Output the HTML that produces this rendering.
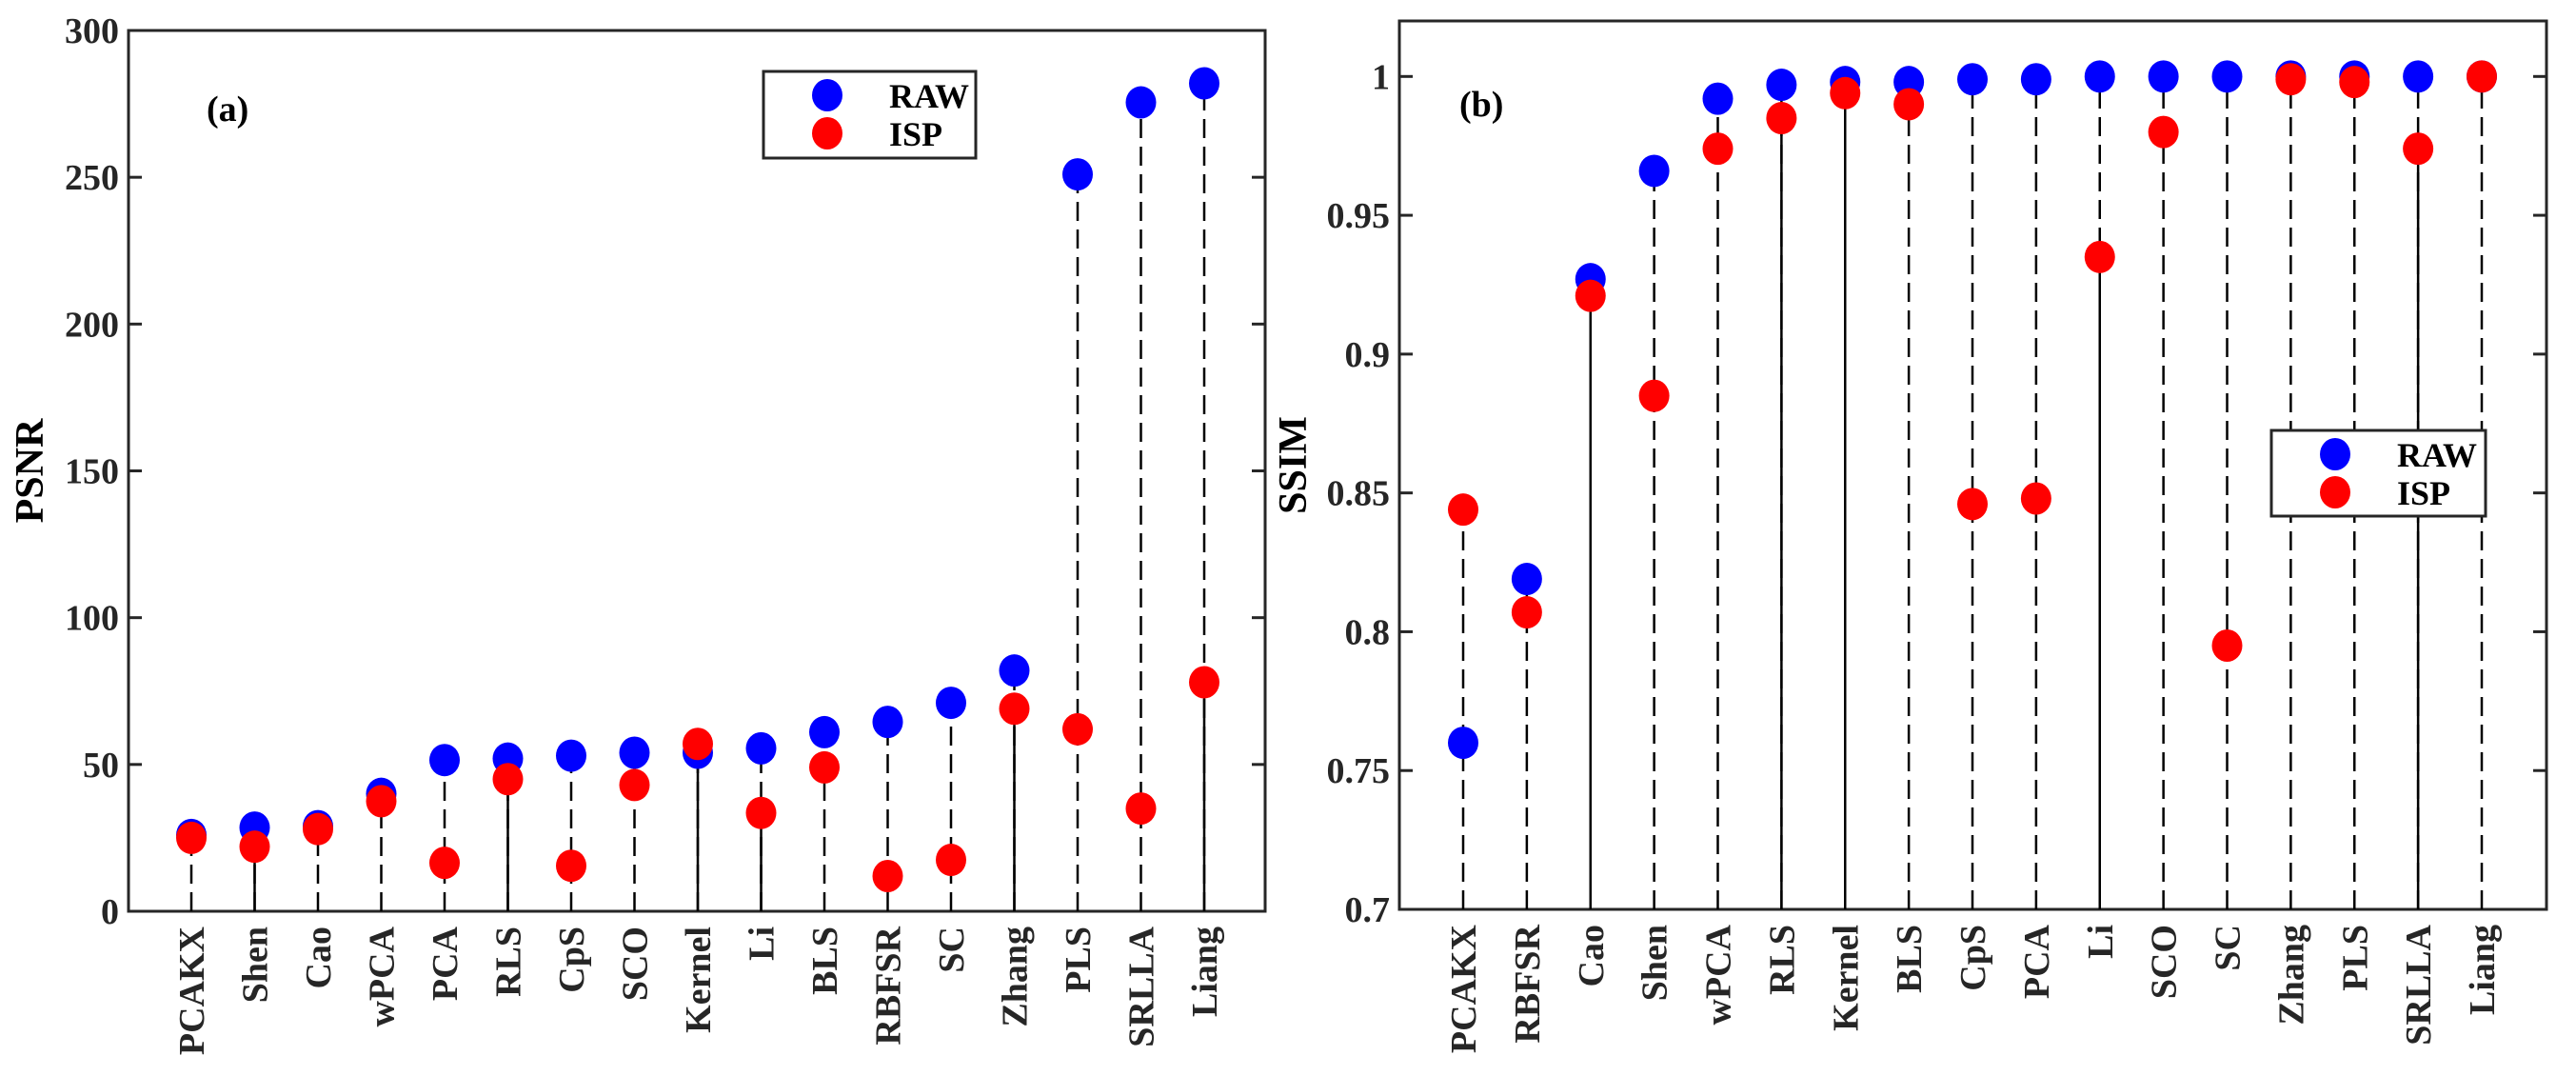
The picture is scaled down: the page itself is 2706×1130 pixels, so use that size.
<!DOCTYPE html>
<html><head><meta charset="utf-8">
<style>
html,body{margin:0;padding:0;background:#fff;}
svg{display:block;font-family:"Liberation Serif",serif;font-weight:bold;}
</style></head>
<body>
<svg id="fig" width="2706" height="1130" viewBox="0 0 2706 1130" xmlns="http://www.w3.org/2000/svg"></svg>
<script>
// ---- Data: panel (a) PSNR ----
const catsA = ["PCAKX","Shen","Cao","wPCA","PCA","RLS","CpS","SCO","Kernel","Li","BLS","RBFSR","SC","Zhang","PLS","SRLLA","Liang"];
const rawA = [26,28.5,29,40,51.5,52,53,54,54,55.5,61,64.5,71,82,251,275.5,282];
const ispA = [25,22,28,37.5,16.5,45,15.5,43,57,33.5,49,12,17.5,69,62,35,78];
const ticksA = [0,50,100,150,200,250,300];
const tickLabelsA = ["0","50","100","150","200","250","300"];
// ---- Data: panel (b) SSIM ----
const catsB = ["PCAKX","RBFSR","Cao","Shen","wPCA","RLS","Kernel","BLS","CpS","PCA","Li","SCO","SC","Zhang","PLS","SRLLA","Liang"];
const rawB = [0.760,0.819,0.927,0.966,0.992,0.997,0.998,0.998,0.999,0.999,1.0,1.0,1.0,1.0,1.0,1.0,1.0];
const ispB = [0.844,0.807,0.921,0.885,0.974,0.985,0.994,0.990,0.846,0.848,0.935,0.980,0.795,0.999,0.998,0.974,1.0];
const ticksB = [0.7,0.75,0.8,0.85,0.9,0.95,1];
const tickLabelsB = ["0.7","0.75","0.8","0.85","0.9","0.95","1"];
// stem style flags (solid lower segment)
const solidA = [0,1,0,0,0,1,0,0,1,1,0,0,0,1,0,0,1];
const solidB = [0,0,1,0,0,1,1,0,0,0,1,0,0,0,0,1,0];

const NS = "http://www.w3.org/2000/svg";
const svg = document.getElementById("fig");
function mk(tag, attrs, parent){
  const e = document.createElementNS(NS, tag);
  for (const k in attrs) e.setAttribute(k, attrs[k]);
  (parent||svg).appendChild(e);
  return e;
}

function panel(o){
  const g = mk("g", {});
  
  
  const y = v => o.bottom - (v - o.ymin) / (o.ymax - o.ymin) * (o.bottom - o.top);
  const x = i => o.x0 + i * (o.x1 - o.x0) / (o.cats.length - 1);
  // axes box
  const box = mk("rect", {x:o.left, y:o.top, width:o.right-o.left, height:o.bottom-o.top, fill:"none", stroke:"#262626", "stroke-width":3}, g);
  
  
  // y ticks
  o.ticks.forEach((t, k) => {
    const yy = y(t);
    mk("line", {x1:o.left, x2:o.left+14, y1:yy, y2:yy, stroke:"#262626", "stroke-width":3}, g);
    mk("line", {x1:o.right, x2:o.right-14, y1:yy, y2:yy, stroke:"#262626", "stroke-width":3}, g);
    const tx = mk("text", {x:o.left-10, y:yy+13, "text-anchor":"end", "font-size":38, fill:"#262626"}, g);
    tx.textContent = o.tickLabels[k];
    
    
  });
  // stems and markers
  o.cats.forEach((c, i) => {
    const xx = x(i);
    const top = Math.max(o.raw[i], o.isp[i]);
    const st = mk("line", {x1:xx, x2:xx, y1:o.bottom, y2:y(top), stroke:"#000", "stroke-width":2.5, "stroke-dasharray":"20,9"}, g);
    
    
    if (o.solid[i]) {
      const s2 = mk("line", {x1:xx, x2:xx, y1:o.bottom, y2:y(Math.min(o.raw[i], o.isp[i])), stroke:"#000", "stroke-width":2.5}, g);
      
      
    }
    const m1 = mk("ellipse", {cx:xx, cy:y(o.raw[i]), rx:16, ry:17, fill:"#0000ff"}, g);
    
    
    const m2 = mk("ellipse", {cx:xx, cy:y(o.isp[i]), rx:16, ry:17, fill:"#ff0000"}, g);
    
    
    const lb = mk("text", {x:0, y:0, "text-anchor":"end", "font-size":38, fill:"#262626", transform:`translate(${xx+13},${o.bottom+16}) rotate(-90)`}, g);
    lb.textContent = c;
    
    
  });
  // y axis title
  const yt = mk("text", {x:0, y:0, "text-anchor":"middle", "font-size":42, fill:"#000", transform:`translate(${o.ytx},${(o.top+o.bottom)/2}) rotate(-90)`}, g);
  yt.textContent = o.ytitle;
  
  
  // panel label
  const pl = mk("text", {x:o.plx, y:o.ply, "font-size":38, fill:"#000"}, g);
  pl.textContent = o.plabel;
  
  
  // legend
  const L = o.legend;
  const lg = mk("g", {}, g);
  
  
  mk("rect", {x:L.x, y:L.y, width:L.w, height:L.h, fill:"#fff", stroke:"#262626", "stroke-width":3}, lg);
  [["RAW","#0000ff"],["ISP","#ff0000"]].forEach((e, k) => {
    const cy = L.y + 25 + k*40;
    const le = mk("ellipse", {cx:L.x+67, cy:cy, rx:16, ry:17, fill:e[1]}, lg);
    
    
    const lt = mk("text", {x:L.x+132, y:cy+13, "font-size":36, fill:"#000"}, lg);
    lt.textContent = e[0];
    
    
  });
}

panel({name:"psnr-chart", cats:catsA, raw:rawA, isp:ispA, solid:solidA, ticks:ticksA, tickLabels:tickLabelsA,
  ymin:0, ymax:300, left:135, right:1329, top:32, bottom:957, x0:201, x1:1265,
  ytitle:"PSNR", ytx:45, plabel:"(a)", plx:217, ply:127,
  legend:{x:802, y:75, w:223, h:91}});
panel({name:"ssim-chart", cats:catsB, raw:rawB, isp:ispB, solid:solidB, ticks:ticksB, tickLabels:tickLabelsB,
  ymin:0.7, ymax:1.02, left:1470, right:2675, top:22, bottom:955, x0:1537, x1:2607,
  ytitle:"SSIM", ytx:1372, plabel:"(b)", plx:1533, ply:122,
  legend:{x:2386, y:452, w:225, h:90}});
</script>
</body></html>
